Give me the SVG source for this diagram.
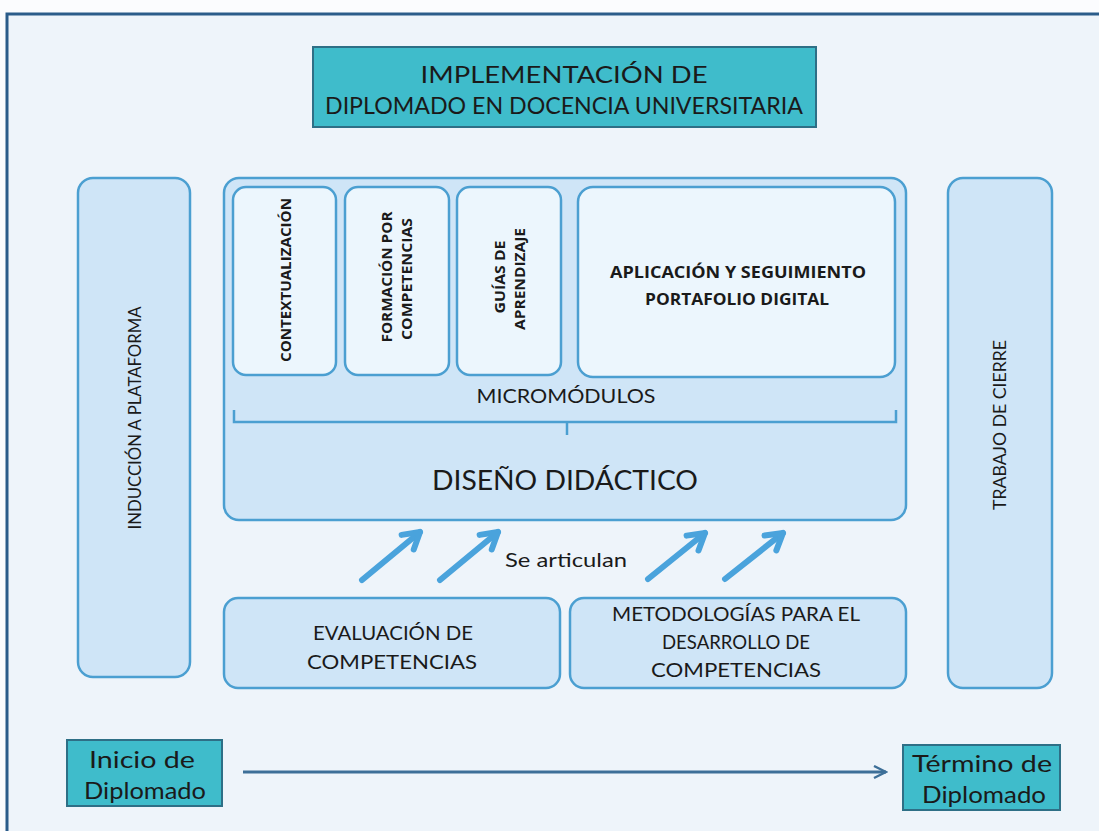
<svg xmlns="http://www.w3.org/2000/svg" width="1099" height="831" viewBox="0 0 1099 831">
<defs>
<style>
text{font-family:Lato,"Open Sans","Liberation Sans",sans-serif;fill:#1a1a1a;text-anchor:middle}
.box{fill:#cfe5f7;stroke:#4b9fd1;stroke-width:2.5}
.inner{fill:#ecf6fd;stroke:#4b9fd1;stroke-width:2.5}
.teal{fill:#3fbccb;stroke:#2e6f86;stroke-width:2}
.b{font-weight:bold;font-family:"Open Sans",Lato,sans-serif}
.blue{stroke:#4aa3dc;stroke-width:6;fill:none;stroke-linecap:round}
</style>
<marker id="ah" viewBox="-22 -14 26 28" refX="0" refY="0" markerWidth="26" markerHeight="28" markerUnits="userSpaceOnUse" orient="auto">
<path d="M-16,-9.5 L0,0 L-16,9.5" fill="none" stroke="#4aa3dc" stroke-width="6" stroke-linecap="round" stroke-linejoin="round"/>
</marker>
<marker id="open" viewBox="0 0 10 10" refX="9" refY="5" markerWidth="5" markerHeight="5" orient="auto">
<path d="M1,1 L9,5 L1,9" fill="none" stroke="#3d6f98" stroke-width="1.6"/>
</marker>
</defs>
<rect x="0" y="0" width="1099" height="831" fill="#fbfcfe"/>
<rect x="7" y="14" width="1100" height="830" fill="#eef4fa" stroke="#2b5c8a" stroke-width="3"/>

<g id="title">
<rect class="teal" x="313" y="47" width="503" height="80"/>
<text x="564" y="83" font-size="24" textLength="287" lengthAdjust="spacingAndGlyphs">IMPLEMENTACIÓN DE</text>
<text x="564" y="114" font-size="24" textLength="478" lengthAdjust="spacingAndGlyphs">DIPLOMADO EN DOCENCIA UNIVERSITARIA</text>
</g>

<g id="induccion">
<rect class="box" x="78" y="178" width="112" height="499" rx="15"/>
<text transform="translate(141,418) rotate(-90)" font-size="17" textLength="223" lengthAdjust="spacingAndGlyphs">INDUCCIÓN A PLATAFORMA</text>
</g>

<g id="trabajo">
<rect class="box" x="948" y="178" width="104" height="510" rx="15"/>
<text transform="translate(1006,425) rotate(-90)" font-size="17" textLength="170" lengthAdjust="spacingAndGlyphs">TRABAJO DE CIERRE</text>
</g>

<g id="diseno">
<rect class="box" x="224" y="178" width="682" height="342" rx="15"/>
<text x="566" y="403" font-size="19" textLength="179" lengthAdjust="spacingAndGlyphs">MICROMÓDULOS</text>
<path d="M234,410 V422 H896 V410 M567,422 V435" fill="none" stroke="#4b9fd1" stroke-width="2.5"/>
<text x="565" y="490" font-size="26" textLength="266" lengthAdjust="spacingAndGlyphs">DISEÑO DIDÁCTICO</text>
</g>

<g id="contextualizacion">
<rect class="inner" x="233" y="187" width="103" height="188" rx="13"/>
<text class="b" transform="translate(291,280) rotate(-90)" font-size="14" textLength="164" lengthAdjust="spacingAndGlyphs">CONTEXTUALIZACIÓN</text>
</g>
<g id="formacion">
<rect class="inner" x="345" y="187" width="104" height="188" rx="13"/>
<text class="b" transform="translate(392,277) rotate(-90)" font-size="14" textLength="131" lengthAdjust="spacingAndGlyphs">FORMACIÓN POR</text>
<text class="b" transform="translate(412,279) rotate(-90)" font-size="14" textLength="122" lengthAdjust="spacingAndGlyphs">COMPETENCIAS</text>
</g>
<g id="guias">
<rect class="inner" x="457" y="187" width="104" height="188" rx="13"/>
<text class="b" transform="translate(505,277) rotate(-90)" font-size="14" textLength="73" lengthAdjust="spacingAndGlyphs">GUÍAS DE</text>
<text class="b" transform="translate(525,279) rotate(-90)" font-size="14" textLength="102" lengthAdjust="spacingAndGlyphs">APRENDIZAJE</text>
</g>
<g id="aplicacion">
<rect class="inner" x="578" y="187" width="317" height="190" rx="15"/>
<text class="b" x="738" y="278" font-size="16" textLength="256" lengthAdjust="spacingAndGlyphs">APLICACIÓN Y SEGUIMIENTO</text>
<text class="b" x="737" y="305" font-size="16" textLength="184" lengthAdjust="spacingAndGlyphs">PORTAFOLIO DIGITAL</text>
</g>

<g id="evaluacion">
<rect class="box" x="224" y="598" width="336" height="90" rx="14"/>
<text x="393" y="640" font-size="20" textLength="160" lengthAdjust="spacingAndGlyphs">EVALUACIÓN DE</text>
<text x="392" y="669" font-size="20" textLength="170" lengthAdjust="spacingAndGlyphs">COMPETENCIAS</text>
</g>
<g id="metodologias">
<rect class="box" x="570" y="598" width="336" height="90" rx="14"/>
<text x="736" y="621" font-size="20" textLength="248" lengthAdjust="spacingAndGlyphs">METODOLOGÍAS PARA EL</text>
<text x="736" y="649" font-size="20" textLength="148" lengthAdjust="spacingAndGlyphs">DESARROLLO DE</text>
<text x="736" y="677" font-size="20" textLength="170" lengthAdjust="spacingAndGlyphs">COMPETENCIAS</text>
</g>

<g id="inicio">
<rect class="teal" x="67" y="740" width="155" height="66"/>
<text x="142" y="768" font-size="23" textLength="106" lengthAdjust="spacingAndGlyphs">Inicio de</text>
<text x="145" y="799" font-size="23" textLength="122" lengthAdjust="spacingAndGlyphs">Diplomado</text>
</g>
<g id="termino">
<rect class="teal" x="903" y="745" width="157" height="65"/>
<text x="982" y="772" font-size="23" textLength="140" lengthAdjust="spacingAndGlyphs">Término de</text>
<text x="984" y="803" font-size="23" textLength="124" lengthAdjust="spacingAndGlyphs">Diplomado</text>
</g>

<g id="connectors">
<line class="blue" x1="362" y1="580" x2="420" y2="532" marker-end="url(#ah)"/>
<line class="blue" x1="440" y1="580" x2="498" y2="532" marker-end="url(#ah)"/>
<line class="blue" x1="648" y1="579" x2="705" y2="533" marker-end="url(#ah)"/>
<line class="blue" x1="725" y1="579" x2="783" y2="533" marker-end="url(#ah)"/>
<text x="566" y="567" font-size="20" textLength="122" lengthAdjust="spacingAndGlyphs">Se articulan</text>
<line x1="243" y1="772" x2="886" y2="772" stroke="#3d6f98" stroke-width="3" marker-end="url(#open)"/>
</g>
</svg>
